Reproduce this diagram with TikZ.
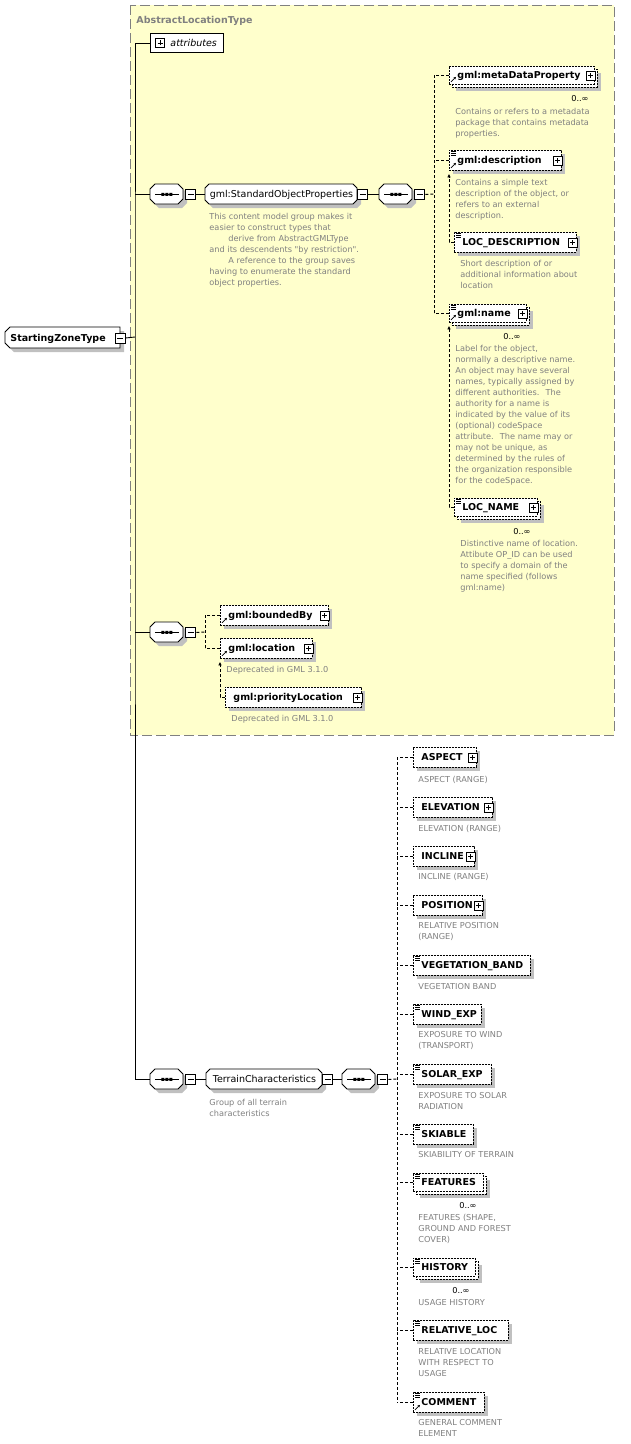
\documentclass[tikz,border=0pt]{standalone}
\usepackage{fontspec}
\newfontfamily\djv{DejaVu Sans}
\usetikzlibrary{arrows.meta}
\definecolor{absfill}{HTML}{FFFFCC}
\definecolor{absline}{HTML}{808080}
\definecolor{shadowc}{HTML}{C0C0C0}
\definecolor{descgray}{HTML}{808080}
\newcommand\xelfont{\djv\bfseries\fontsize{9.5}{11}\selectfont}
\newcommand\xgrpfont{\djv\fontsize{9.5}{11}\selectfont}
\newcommand\xdfont{\djv\fontsize{8.2}{11}\selectfont}
% octagon: x y w chamfer style (height 20)
\newcommand\octo[5]{\path[#5] (#1+#4,#2) -- (#1+#3-#4,#2) -- (#1+#3,#2+#4) -- (#1+#3,#2+20-#4) -- (#1+#3-#4,#2+20) -- (#1+#4,#2+20) -- (#1,#2+20-#4) -- (#1,#2+#4) -- cycle;}
\newcommand\seqnode[3]{%
  \octo{#2+4}{#3+4}{33}{5}{fill=shadowc}
  \octo{#2}{#3}{33}{5}{draw,fill=white}
  \node[cbox, minimum width=33pt] (#1) at (#2,#3) {};
  \draw ([xshift=5pt]#1.west) -- ([xshift=-5pt]#1.east);
  \fill[shift={(#1.center)}] (-5.5,-1.5) rectangle (-2.5,1.5) (-1.5,-1.5) rectangle (1.5,1.5) (2.5,-1.5) rectangle (5.5,1.5);
  \node[minusbox] (#1m) at ([xshift=7pt]#1.east) {};
}
\newcommand\grpnode[5]{%
  \octo{#2+4}{#3+4}{#4}{4}{fill=shadowc}
  \octo{#2}{#3}{#4}{4}{draw,fill=white}
  \node[cbox, minimum width=#4pt, font=\xgrpfont] (#1) at (#2,#3) {#5};
  \node[minusbox] (#1m) at ([xshift=5pt]#1.east) {};
}
\newcommand\elem[5]{%
  \pgfmathsetmacro\tw{#4-16}%
  \fill[shadowc] (#2+4,#3+4) rectangle ++(#4,20);
  \node[elem, minimum height=20pt, text width=\tw pt] (#1) at (#2,#3) {#5};
}
\newcommand\elemm[5]{%
  \pgfmathsetmacro\tw{#4-16}%
  \fill[shadowc] (#2+7,#3+7) rectangle ++(#4,18);
  \draw[ebox, fill=white] (#2+3,#3+3) rectangle ++(#4,18);
  \node[elem, minimum height=18pt, text width=\tw pt] (#1) at (#2,#3) {#5};
}
\newcommand\plusat[1]{\node[plusbox, anchor=east] (#1-p) at ([xshift=0.5pt]#1.east) {};}
\newcommand\smpicon[1]{\draw[icon] ([xshift=2pt,yshift=-1.5pt]#1.north west) -- ++(5,0) ([xshift=2pt,yshift=-3.5pt]#1.north west) -- ++(5,0) ([xshift=2pt,yshift=-5.5pt]#1.north west) -- ++(5,0);}
\newcommand\reficon[1]{\draw[icon, -{Stealth[length=2.5pt,width=2.5pt]}] ([xshift=2pt,yshift=3pt]#1.south west) -- ++(5,-5);}
\begin{document}
\begin{tikzpicture}[x=1pt,y=-1pt,line width=0.9pt,
  ebox/.style={dash pattern=on 2pt off 1pt},
  elem/.style={draw, ebox, fill=white, anchor=north west, inner xsep=8pt, inner ysep=0pt, text height=7pt, text depth=0pt, align=left, font=\xelfont},
  cbox/.style={anchor=north west, minimum height=20pt, inner sep=0pt, text height=7pt, text depth=0pt},
  minusbox/.style={draw, solid, fill=white, minimum size=10pt, inner sep=0pt, path picture={\draw[line width=0.9pt] ([xshift=2pt]path picture bounding box.west) -- ([xshift=-2pt]path picture bounding box.east);}},
  plusbox/.style={draw, solid, fill=white, minimum size=9pt, inner sep=0pt, line width=0.8pt, path picture={\draw[line width=0.8pt] ([xshift=2pt]path picture bounding box.west) -- ([xshift=-2pt]path picture bounding box.east) ([yshift=2pt]path picture bounding box.south) -- ([yshift=-2pt]path picture bounding box.north);}},
  desc/.style={anchor=north west, inner sep=0pt, align=left, font=\xdfont, text=descgray},
  mult/.style={anchor=east, inner sep=0pt, font=\xdfont},
  dconn/.style={dash pattern=on 3pt off 2pt},
  icon/.style={solid, line width=0.8pt},
  subst/.style={dconn, -{Latex[length=3.5pt,width=3.5pt]}},
]
\useasboundingbox (0,0) rectangle (630,1444);
\fill[white] (0,0) rectangle (630,1444);
% abstract type region
\draw[absline, fill=absfill, dash pattern=on 10pt off 4pt, line width=1pt] (130,5) rectangle (614,735);
\node[anchor=base west, inner sep=0pt, font=\xelfont, text=absline] (absttl) at (136,23) {AbstractLocationType};
% root
\fill[shadowc] (14,331) -- (124,331) -- (124,352) -- (14,352) -- (9,347) -- (9,336) -- cycle;
\draw[fill=white] (10,327) -- (120,327) -- (120,348) -- (10,348) -- (5,343) -- (5,332) -- cycle;
\node[cbox, minimum height=21pt, text width=105pt, inner xsep=5pt, align=left, font=\xelfont] (szt) at (5,327) {StartingZoneType};
\node[minusbox] (sztm) at ([xshift=-0.5pt]szt.east) {};
\coordinate (trunk) at (135,337);
% attributes
\node[draw, solid, fill=white, anchor=north west, minimum height=19pt, inner xsep=5pt, inner ysep=0pt, text width=63pt, text height=7pt, text depth=0pt, align=left, font=\itshape\xgrpfont] (attr) at (150,33) {\hspace*{15pt}attributes};
\node[plusbox] (attr-p) at ([xshift=10pt]attr.west) {};
% first sequence
\seqnode{seq1}{150}{184}
\grpnode{g1}{205}{184}{152}{gml:StandardObjectProperties}
\node[desc] (g1-d) at (209,212.5) {This content model group makes it\\easier to construct types that\\\hspace*{19pt}derive from AbstractGMLType\\and its descendents "by restriction".\\\hspace*{19pt}A reference to the group saves\\having to enumerate the standard\\object properties.};
\seqnode{seq2}{379}{184}
\coordinate (chA) at (434,194);
\elemm{mdp}{449}{66}{145}{gml:metaDataProperty}
\plusat{mdp}\reficon{mdp}
\node[mult] (mdp-m) at (589,99) {0..∞};
\node[desc] (mdp-d) at (455,107.5) {Contains or refers to a metadata\\package that contains metadata\\properties.};
\elem{gdesc}{449}{150}{112}{gml:description}
\plusat{gdesc}\smpicon{gdesc}\reficon{gdesc}
\node[desc] (gdesc-d) at (455,178.5) {Contains a simple text\\description of the object, or\\refers to an external\\description.};
\elem{locd}{454}{232}{122}{LOC\_DESCRIPTION}
\plusat{locd}\smpicon{locd}
\node[desc] (locd-d) at (460,259.5) {Short description of or\\additional information about\\location};
\elemm{gname}{449}{304}{77}{gml:name}
\plusat{gname}\smpicon{gname}\reficon{gname}
\node[mult] (gname-m) at (521,337) {0..∞};
\node[desc] (gname-d) at (455,344.5) {Label for the object,\\normally a descriptive name.\\An object may have several\\names, typically assigned by\\different authorities.~ The\\authority for a name is\\indicated by the value of its\\(optional) codeSpace\\attribute.~ The name may or\\may not be unique, as\\determined by the rules of\\the organization responsible\\for the codeSpace.};
\elemm{locname}{454}{498}{83}{LOC\_NAME}
\plusat{locname}\smpicon{locname}
\node[mult] (locname-m) at (531,532) {0..∞};
\node[desc] (locname-d) at (460,539.5) {Distinctive name of location.\\Attibute OP\_ID can be used\\to specify a domain of the\\name specified (follows\\gml:name)};
% second sequence
\seqnode{seq3}{150}{622}
\coordinate (chB) at (205,632);
\elem{bby}{220}{605}{108}{gml:boundedBy}
\plusat{bby}\reficon{bby}
\elem{loc}{220}{638}{92}{gml:location}
\plusat{loc}\reficon{loc}
\node[desc] (loc-d) at (226,665.5) {Deprecated in GML 3.1.0};
\elem{ploc}{225}{687}{136}{gml:priorityLocation}
\plusat{ploc}
\node[desc] (ploc-d) at (231,714.5) {Deprecated in GML 3.1.0};
% terrain
\seqnode{seq4}{150}{1069}
\grpnode{g2}{206}{1069}{116}{TerrainCharacteristics}
\node[desc] (g2-d) at (209,1098.5) {Group of all terrain\\characteristics};
\seqnode{seq5}{342}{1069}
\coordinate (chC) at (397,1079);
\elem{asp}{413}{747}{63}{ASPECT}\plusat{asp}
\node[desc] (asp-d) at (418,775.5) {ASPECT (RANGE)};
\elem{elev}{413}{797}{79}{ELEVATION}\plusat{elev}
\node[desc] (elev-d) at (418,824.5) {ELEVATION (RANGE)};
\elem{incl}{413}{846}{61}{INCLINE}\plusat{incl}
\node[desc] (incl-d) at (418,872.5) {INCLINE (RANGE)};
\elem{posn}{413}{895}{69}{POSITION}\plusat{posn}
\node[desc] (posn-d) at (418,921.5) {RELATIVE POSITION\\(RANGE)};
\elem{veg}{413}{955}{117}{VEGETATION\_BAND}\smpicon{veg}
\node[desc] (veg-d) at (418,982.5) {VEGETATION BAND};
\elem{wind}{413}{1004}{68}{WIND\_EXP}\smpicon{wind}
\node[desc] (wind-d) at (418,1030.5) {EXPOSURE TO WIND\\(TRANSPORT)};
\elem{solar}{413}{1064}{78}{SOLAR\_EXP}\smpicon{solar}
\node[desc] (solar-d) at (418,1091.5) {EXPOSURE TO SOLAR\\RADIATION};
\elem{ski}{413}{1124}{60}{SKIABLE}\smpicon{ski}
\node[desc] (ski-d) at (418,1150.5) {SKIABILITY OF TERRAIN};
\elemm{feat}{413}{1173}{70}{FEATURES}\smpicon{feat}
\node[mult] (feat-m) at (477,1205) {0..∞};
\node[desc] (feat-d) at (418,1213.5) {FEATURES (SHAPE,\\GROUND AND FOREST\\COVER)};
\elemm{hist}{413}{1258}{62}{HISTORY}\smpicon{hist}
\node[mult] (hist-m) at (470,1290) {0..∞};
\node[desc] (hist-d) at (418,1298.5) {USAGE HISTORY};
\elem{rloc}{413}{1320}{95}{RELATIVE\_LOC}\smpicon{rloc}
\node[desc] (rloc-d) at (418,1347.5) {RELATIVE LOCATION\\WITH RESPECT TO\\USAGE};
\elem{cmt}{413}{1392}{71}{COMMENT}\smpicon{cmt}\reficon{cmt}
\node[desc] (cmt-d) at (418,1418.5) {GENERAL COMMENT\\ELEMENT};
% connectors
\draw (sztm.east) -- (trunk);
\draw (attr.west) -| (trunk) |- (seq4.west);
\draw (seq1.west) -- (seq1.west -| trunk);
\draw (seq3.west) -- (seq3.west -| trunk);
\draw (seq1m.east) -- (g1.west);
\draw (g1m.east) -- (seq2.west);
\draw[dconn] (seq2m.east) -- (chA);
\draw[dconn] (mdp.west -| chA) -- (gname.west -| chA);
\foreach \n in {mdp,gdesc,gname} {\draw[dconn] (\n.west) -- (\n.west -| chA);}
\draw[subst] (locd.west) -| ([yshift=-3pt]gdesc.south west);
\draw[subst] (locname.west) -| ([yshift=-3pt]gname.south west);
\draw[dconn] (seq3m.east) -- (chB);
\draw[dconn] (bby.west -| chB) -- (loc.west -| chB);
\foreach \n in {bby,loc} {\draw[dconn] (\n.west) -- (\n.west -| chB);}
\draw[subst] (ploc.west) -| ([yshift=-3pt]loc.south west);
\draw (seq4m.east) -- (g2.west);
\draw (g2m.east) -- (seq5.west);
\draw[dconn] (seq5m.east) -- (chC);
\draw[dconn] (asp.west -| chC) -- (cmt.west -| chC);
\foreach \n in {asp,elev,incl,posn,veg,wind,solar,ski,feat,hist,rloc,cmt} {\draw[dconn] (\n.west) -- (\n.west -| chC);}
\end{tikzpicture}
\end{document}
